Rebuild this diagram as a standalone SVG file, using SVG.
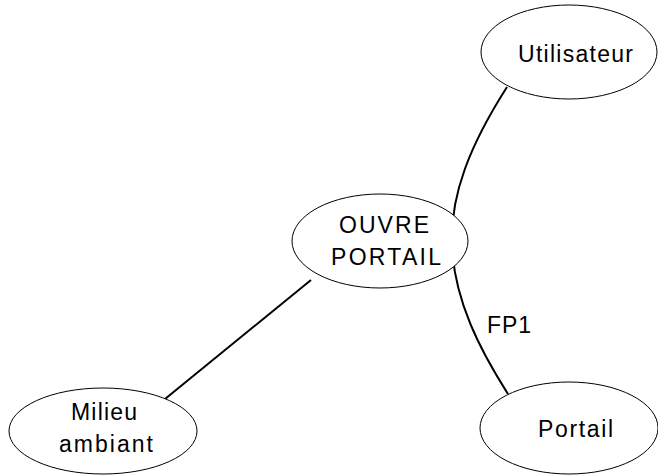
<svg xmlns="http://www.w3.org/2000/svg" width="658" height="475" viewBox="0 0 658 475">
  <style>
    .node ellipse { fill: #ffffff; stroke: #000000; stroke-width: 1; }
    .node text, .label { font-family: "Liberation Sans", Arial, sans-serif; font-size: 23px; fill: #000000; text-anchor: middle; }
    .edge { fill: none; stroke: #000000; stroke-width: 2; }
  </style>
  <rect width="658" height="475" fill="#ffffff"/>
  <g id="connectors">
    <line class="edge" x1="311" y1="280" x2="165" y2="399"/>
    <path class="edge" d="M507,87 C470,145 450,195 452,245 C454,300 480,350 508,394"/>
    <text class="label" x="509" y="333" textLength="44">FP1</text>
  </g>
  <g id="utilisateur" class="node">
    <ellipse cx="569" cy="52" rx="88" ry="47"/>
    <text x="575.5" y="62" textLength="115">Utilisateur</text>
  </g>
  <g id="ouvre-portail" class="node">
    <ellipse cx="380" cy="241" rx="88" ry="47"/>
    <text x="384" y="233" textLength="90">OUVRE</text>
    <text x="386" y="265" textLength="110">PORTAIL</text>
  </g>
  <g id="milieu-ambiant" class="node">
    <ellipse cx="103" cy="431" rx="94" ry="43"/>
    <text x="104" y="420" textLength="66">Milieu</text>
    <text x="106" y="452" textLength="94">ambiant</text>
  </g>
  <g id="portail" class="node">
    <ellipse cx="569" cy="428" rx="89" ry="46"/>
    <text x="575.5" y="437" textLength="75">Portail</text>
  </g>
</svg>
